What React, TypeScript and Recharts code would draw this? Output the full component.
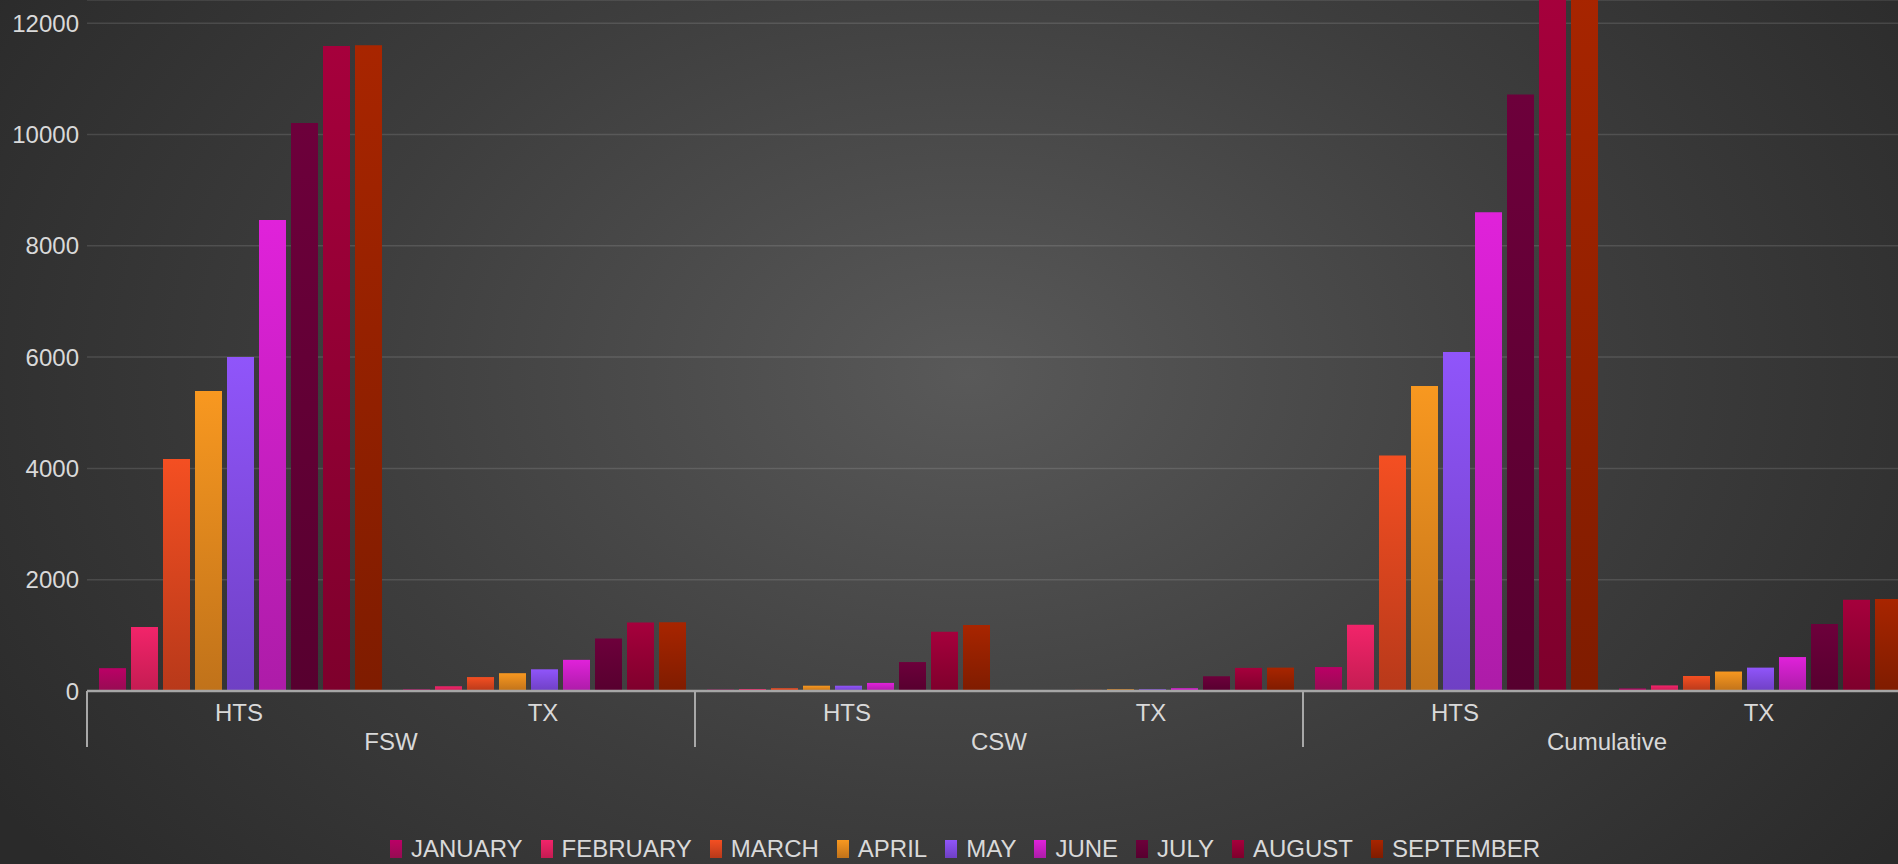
import { Bar, BarChart, CartesianGrid, Legend, XAxis, YAxis } from "recharts";

const months = ["JANUARY", "FEBRUARY", "MARCH", "APRIL", "MAY", "JUNE", "JULY", "AUGUST", "SEPTEMBER"];
const topColors = ["#bb0066", "#f2246a", "#f44f22", "#f89820", "#9055fa", "#e022da", "#6d003b", "#a6003c", "#a82500"];
const bottomColors = ["#960c52", "#c41c52", "#b8391a", "#c0721a", "#6f40c4", "#ad1ca8", "#57002f", "#7e002c", "#7f1c00"];

const subCategories = ["HTS", "TX", "HTS", "TX", "HTS", "TX"];
const groupCategories = ["FSW", "FSW", "CSW", "CSW", "Cumulative", "Cumulative"];

// values per month, Jan..Sep
const fswHts = [410, 1150, 4170, 5390, 6000, 8465, 10205, 11590, 11605];
const fswTx = [30, 85, 250, 320, 390, 560, 945, 1230, 1235];
const cswHts = [25, 35, 50, 95, 95, 145, 520, 1066, 1186];
const cswTx = [15, 15, 20, 30, 30, 50, 265, 415, 420];
const cumHts = [430, 1190, 4230, 5480, 6090, 8605, 10720, 12656, 12791];
const cumTx = [45, 100, 270, 350, 420, 610, 1205, 1640, 1655];

const yTicks = [0, 2000, 4000, 6000, 8000, 10000, 12000];

const seriesRows = [fswHts, fswTx, cswHts, cswTx, cumHts, cumTx];
const data = subCategories.map((sub, i) => {
  const row: Record<string, string | number> = { sub, group: groupCategories[i] };
  months.forEach((m, j) => {
    row[m] = seriesRows[i][j];
  });
  return row;
});

const W = 1916;
const H = 864;
const PLOT_LEFT = 87;
const PLOT_RIGHT = 1911;
const BAND = (PLOT_RIGHT - PLOT_LEFT) / subCategories.length;
const textColor = "#d9d9d9";
const font = "'Liberation Sans', Arial, sans-serif";

function SubTick({ x, y, payload }: any) {
  return (
    <text x={x} y={y + 30} textAnchor="middle" fill={textColor} fontSize={24} fontFamily={font}>
      {payload.value}
    </text>
  );
}

function GroupTick({ x, y, index, payload }: any) {
  const half = BAND / 2;
  const last = index === subCategories.length - 1;
  return (
    <g>
      {index % 2 === 0 && (
        <line x1={x - half} x2={x - half} y1={y - 40} y2={y + 16} stroke="#a8a8a8" strokeWidth={2} />
      )}
      {index % 2 === 0 && (
        <text x={x + half} y={y + 19} textAnchor="middle" fill={textColor} fontSize={24} fontFamily={font}>
          {payload.value}
        </text>
      )}
      {last && <line x1={x + half} x2={x + half} y1={y - 40} y2={y + 16} stroke="#a8a8a8" strokeWidth={2} />}
    </g>
  );
}

function LegendContent() {
  return (
    <div
      style={{
        display: "flex",
        justifyContent: "center",
        alignItems: "center",
        height: 40,
        paddingTop: 10,
        paddingLeft: 19,
        boxSizing: "border-box",
      }}
    >
      {months.map((m, i) => (
        <div key={m} style={{ display: "flex", alignItems: "center", marginRight: i === months.length - 1 ? 0 : 18 }}>
          <div
            style={{
              width: 12,
              height: 18,
              marginRight: 9,
              background: `linear-gradient(${topColors[i]}, ${bottomColors[i]})`,
            }}
          />
          <span style={{ color: textColor, fontSize: 24, lineHeight: 1, fontFamily: font }}>{m}</span>
        </div>
      ))}
    </div>
  );
}

export default function App() {
  return (
    <div
      style={{
        position: "absolute",
        left: 0,
        top: 0,
        width: 1898,
        height: H,
        overflow: "hidden",
        fontFamily: font,
        background:
          "radial-gradient(ellipse 1150px 800px at 968px 375px, #595959 0%, #3d3d3d 55%, #2a2a2a 100%)",
      }}
    >
      <BarChart
        width={W}
        height={H}
        data={data}
        margin={{ top: 0, right: W - PLOT_RIGHT, left: 0, bottom: 0 }}
        barCategoryGap={12}
        barGap={5}
      >
        <defs>
          {months.map((m, i) => (
            <linearGradient key={m} id={`bar-${i}`} x1="0" y1="0" x2="0" y2="1">
              <stop offset="0%" stopColor={topColors[i]} />
              <stop offset="100%" stopColor={bottomColors[i]} />
            </linearGradient>
          ))}
        </defs>
        <CartesianGrid xAxisId={0} vertical={false} stroke="rgba(255,255,255,0.12)" strokeWidth={1.5} />
        <XAxis
          xAxisId={0}
          dataKey="sub"
          height={40}
          interval={0}
          tickSize={0}
          tickMargin={0}
          tickLine={false}
          axisLine={{ stroke: "#a6a6a6", strokeWidth: 2.5 }}
          tick={<SubTick />}
        />
        <XAxis
          xAxisId={1}
          dataKey="group"
          height={93}
          interval={0}
          tickSize={0}
          tickMargin={0}
          tickLine={false}
          axisLine={false}
          tick={<GroupTick />}
        />
        <YAxis
          width={PLOT_LEFT}
          domain={[0, 12417]}
          allowDataOverflow
          ticks={yTicks}
          tickSize={0}
          tickMargin={8}
          tickLine={false}
          axisLine={false}
          tick={{ fill: textColor, fontSize: 24, fontFamily: font }}
        />
        <Legend verticalAlign="bottom" height={40} wrapperStyle={{ height: 40 }} content={() => <LegendContent />} />
        {months.map((m, i) => (
          <Bar key={m} xAxisId={0} dataKey={m} name={m} fill={`url(#bar-${i})`} isAnimationActive={false} />
        ))}
      </BarChart>
    </div>
  );
}
